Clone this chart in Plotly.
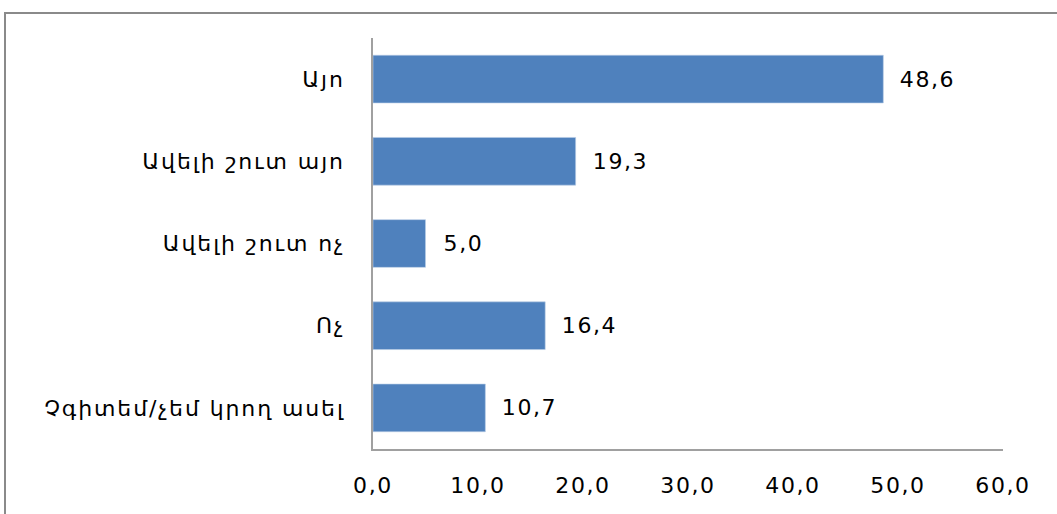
import plotly.graph_objects as go

# Survey answers (percent of respondents)
categories = [
    "Այո",
    "Ավելի շուտ այո",
    "Ավելի շուտ ոչ",
    "Ոչ",
    "Չգիտեմ/չեմ կրող ասել",
]
values = [48.6, 19.3, 5.0, 16.4, 10.7]
x_ticks = [0, 10, 20, 30, 40, 50, 60]

FONT = "DejaVu Sans"
BAR_COLOR = "#4F81BD"

fig = go.Figure(
    go.Bar(
        x=values,
        y=categories,
        orientation="h",
        marker=dict(color=BAR_COLOR, line=dict(color="#B9CDE5", width=0.6)),
        hoverinfo="skip",
    )
)

# value labels to the right of each bar
for cat, val in zip(categories, values):
    fig.add_annotation(
        x=val, y=cat, xref="x", yref="y",
        text=f"{val:.1f}".replace(".", ","),
        showarrow=False, xanchor="left", xshift=18,
        font=dict(family=FONT, size=22, color="#000000"),
    )

# outer chart frame (extends past the right and bottom edges)
fig.add_shape(
    type="rect", xref="paper", yref="paper",
    x0=(5 - 373) / 630, x1=1.2, y0=-0.3, y1=(449 - 13) / 411,
    line=dict(color="#8A8A8A", width=2), fillcolor="rgba(0,0,0,0)",
    layer="below",
)

fig.update_layout(
    width=1057, height=514,
    margin=dict(l=373, r=54, t=38, b=65, pad=0),
    paper_bgcolor="#FFFFFF", plot_bgcolor="#FFFFFF",
    separators=",.",
    bargap=0.42,
    showlegend=False,
    font=dict(family=FONT, size=22, color="#000000"),
)
fig.update_xaxes(
    range=[0, 60], tickvals=x_ticks, tickformat=".1f",
    showgrid=False, zeroline=False,
    showline=True, linecolor="#A0A0A0", linewidth=1.5,
    ticks="", ticklabelstandoff=16,
    tickfont=dict(family=FONT, size=22, color="#000000"),
    fixedrange=True,
)
fig.update_yaxes(
    autorange="reversed", showgrid=False, zeroline=False,
    showline=True, linecolor="#A0A0A0", linewidth=1.5,
    ticks="", ticklabelstandoff=22,
    tickfont=dict(family=FONT, size=22, color="#000000"),
    fixedrange=True,
)

# widen the lettering a little, as in the original office-style chart
post_js = """
var gd = document.getElementById('{plot_id}');
function spread() {
  gd.querySelectorAll('.ytick text').forEach(function (t) { t.style.letterSpacing = '1.9px'; });
  gd.querySelectorAll('.xtick text, .annotation-text').forEach(function (t) { t.style.letterSpacing = '1.6px'; });
}
spread();
gd.on('plotly_afterplot', spread);
"""

fig.write_html("out.html", config={"displayModeBar": False}, post_script=post_js)
